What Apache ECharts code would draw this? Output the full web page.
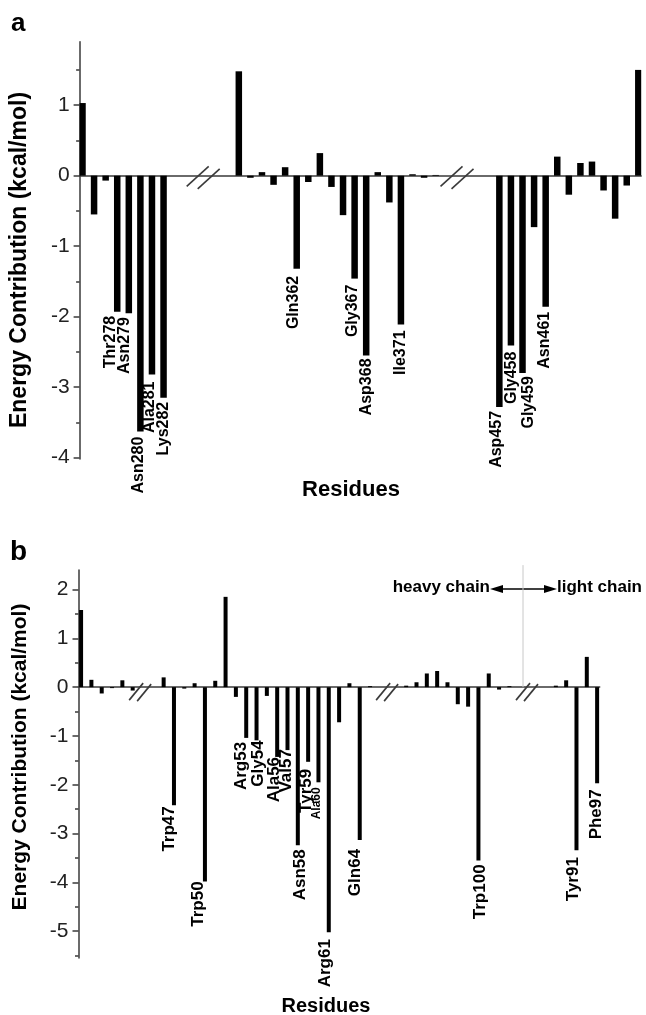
<!DOCTYPE html>
<html>
<head>
<meta charset="utf-8">
<script src="https://cdn.jsdelivr.net/npm/echarts@6/dist/echarts.min.js"></script>
<style>
  html, body { margin: 0; padding: 0; background: #fff; }
  #chart { width: 646px; height: 1015px; }
</style>
</head>
<body>
<div id="chart"></div>
<script>
// ================= DATA =================
// Panel a — three residue segments separated by axis breaks
const aSeg1Values = [1.03, -0.55, -0.07, -1.93, -1.95, -3.63, -2.82, -3.15];
const aSeg1Labels = ['', '', '', 'Thr278', 'Asn279', 'Asn280', 'Ala281', 'Lys282'];
const aSeg2Values = [1.48, -0.03, 0.05, -0.13, 0.12, -1.32, -0.09, 0.32, -0.16, -0.56, -1.46, -2.55, 0.05, -0.38, -2.11, 0.02, -0.03, 0.01];
const aSeg2Labels = ['', '', '', '', '', 'Gln362', '', '', '', '', 'Gly367', 'Asp368', '', '', 'Ile371', '', '', ''];
const aSeg3Values = [-3.28, -2.41, -2.80, -0.73, -1.86, 0.27, -0.27, 0.18, 0.20, -0.21, -0.61, -0.14, 1.50];
const aSeg3Labels = ['Asp457', 'Gly458', 'Gly459', '', 'Asn461', '', '', '', '', '', '', '', ''];
const aYTicks = [-4, -3, -2, -1, 0, 1];
const aYMinorTicks = [-3.5, -2.5, -1.5, -0.5, 0.5, 1.5];
const aBreakGaps = [13, 11];          // width of each axis break, in half bar-slots

// Panel b — heavy chain (3 segments) and light chain (1 segment)
const bSeg1Values = [1.58, 0.15, -0.13, -0.02, 0.14, -0.07];
const bSeg1Labels = ['', '', '', '', '', ''];
const bSeg2Values = [0.20, -2.42, -0.03, 0.08, -3.98, 0.13, 1.85, -0.20, -1.04, -1.09, -0.18, -1.43, -1.29, -3.24, -1.53, -1.95, -5.02, -0.72, 0.08, -3.13, 0.02];
const bSeg2Labels = ['', 'Trp47', '', '', 'Trp50', '', '', '', 'Arg53', 'Gly54', '', 'Ala56', 'Val57', 'Asn58', 'Tyr59', 'Ala60', 'Arg61', '', '', 'Gln64', ''];
const bSeg3Values = [0.03, 0.10, 0.28, 0.33, 0.10, -0.35, -0.40, -3.55, 0.28, -0.05, 0.02];
const bSeg3Labels = ['', '', '', '', '', '', '', 'Trp100', '', '', ''];
const bSeg4Values = [0.03, 0.14, -3.34, 0.62, -1.97];
const bSeg4Labels = ['', '', 'Tyr91', '', 'Phe97'];
const bYTicks = [-5, -4, -3, -2, -1, 0, 1, 2];
const bYMinorTicks = [-5.5, -4.5, -3.5, -2.5, -1.5, -0.5, 0.5, 1.5];
const bBreakGaps = [6, 7, 9];

// ================= STYLE =================
const FONT = "'Liberation Sans', Arial, Helvetica, sans-serif";
const AXIS_COLOR = '#3a3a3a';

const styleA = {
  grid: { left: 79.6, top: 41.7, width: 561.6, height: 417.4 },
  min: -4.02, max: 1.9, barWidth: 6.5, labelSize: 16,
  brk: { dx: 22, dy: 20, sepX: 11, sepY: 2.5, y: 2, shifts: [2, -10.5] }
};
const styleB = {
  grid: { left: 78.5, top: 570, width: 521.2, height: 388 },
  min: -5.55, max: 2.4, barWidth: 4, labelSize: 17,
  brk: { dx: 14, dy: 17, sepX: 8, sepY: 1, y: 5, shifts: [-8, -1, -5.6] },
  divider: { at: 2, shift: -9.6, top: 2.5 }
};

// screen-space nudges [dx, dy] of residue labels, and special sizes
const labelNudge = {
  Thr278: [-7, 0], Asn279: [-4, 0], Asn280: [-1.5, 1], Ala281: [-2, 3], Lys282: [0, 0],
  Gln362: [-3, 3], Gly367: [-2.5, 2], Asp368: [0, -1], Ile371: [0, 2],
  Asp457: [-2.5, 0], Gly458: [1, 2], Gly459: [6, -1], Asn461: [-1.5, 1],
  Trp47: [-4.5, -3], Trp50: [-6.5, -4], Arg53: [-5, 0], Gly54: [2, -4], Ala56: [-3, -4], Val57: [-1.5, -5],
  Asn58: [2, 0], Tyr59: [-2, 3], Ala60: [-1.5, 1], Arg61: [-3.5, 3], Gln64: [-4, 5],
  Trp100: [2, 0], Tyr91: [-3, 3], Phe97: [-1, 2]
};
const labelSize = { Ala60: 12 };

// ================= BUILD =================
function buildPanel(segValues, segLabels, gaps) {
  const values = [], names = [], breaks = [];
  segValues.forEach((vals, s) => {
    vals.forEach((v, i) => {
      if (i > 0) { values.push(null); names.push(''); }
      values.push(v); names.push(segLabels[s][i]);
    });
    if (s < segValues.length - 1) {
      const last = values.length - 1;
      for (let k = 1; k < gaps[s]; k++) { values.push(null); names.push(''); }
      breaks.push([last, 0, values.length]);
    }
  });
  return { values, names, breaks, cats: values.map((_, i) => 'c' + i) };
}

const panelA = buildPanel([aSeg1Values, aSeg2Values, aSeg3Values], [aSeg1Labels, aSeg2Labels, aSeg3Labels], aBreakGaps);
const panelB = buildPanel([bSeg1Values, bSeg2Values, bSeg3Values, bSeg4Values], [bSeg1Labels, bSeg2Labels, bSeg3Labels, bSeg4Labels], bBreakGaps);

const grids = [], xAxes = [], yAxes = [], series = [];

function addPanel(panel, st, ticks, minorTicks, idx) {
  grids.push(Object.assign({ outerBoundsMode: 'none', containLabel: false }, st.grid));
  xAxes.push({
    type: 'category', gridIndex: idx, data: panel.cats, boundaryGap: true,
    axisLine: { show: true, onZero: true, lineStyle: { color: AXIS_COLOR, width: 1.5 } },
    axisTick: { show: false }, axisLabel: { show: false }, splitLine: { show: false }
  });
  const yMain = yAxes.length;
  yAxes.push({
    type: 'value', gridIndex: idx, position: 'left', min: st.min, max: st.max,
    axisLine: { show: true, lineStyle: { color: AXIS_COLOR, width: 1.5 } },
    axisTick: { show: true, length: 6, customValues: ticks, lineStyle: { color: AXIS_COLOR, width: 1.5 } },
    axisLabel: { show: true, customValues: ticks, fontSize: 21, fontFamily: FONT, color: '#222', margin: 10 },
    splitLine: { show: false }
  });
  yAxes.push({
    type: 'value', gridIndex: idx, position: 'left', offset: 0, min: st.min, max: st.max,
    axisLine: { show: false },
    axisTick: { show: true, length: 3.5, customValues: minorTicks, lineStyle: { color: AXIS_COLOR, width: 1.5 } },
    axisLabel: { show: false }, splitLine: { show: false }
  });
  const data = panel.values.map((v, i) => {
    if (v == null) return '-';
    const nm = panel.names[i];
    if (!nm) return v;
    const n = labelNudge[nm] || [0, 0];
    const lab = { offset: [-n[1], n[0]] };
    if (labelSize[nm]) lab.fontSize = labelSize[nm];
    return { value: v, label: lab };
  });
  series.push({
    type: 'bar', xAxisIndex: idx, yAxisIndex: yMain, data,
    barWidth: st.barWidth, itemStyle: { color: '#000' }, silent: true,
    label: {
      show: true, position: 'bottom', rotate: 90, align: 'right', verticalAlign: 'middle',
      distance: 4, fontFamily: FONT, fontWeight: 'bold', fontSize: st.labelSize, color: '#000',
      formatter: p => panel.names[p.dataIndex] || ''
    }
  });
  series.push({
    type: 'custom', xAxisIndex: idx, yAxisIndex: yMain, data: panel.breaks,
    encode: { x: 0, y: 1 }, clip: false, silent: true, z: 5,
    renderItem: (params, api) => {
      const k = params.dataIndex, b = st.brk;
      const p0 = api.coord([api.value(0), 0]);
      const p1 = api.coord([api.value(2), 0]);
      const mid = (p0[0] + p1[0]) / 2;
      const cx = mid + b.shifts[k], cy = p0[1] + b.y;
      const children = [];
      [-0.5, 0.5].forEach(j => {
        const lx = cx + j * b.sepX, ly = cy + j * b.sepY;
        children.push({
          type: 'line',
          shape: { x1: lx - b.dx / 2, y1: ly + b.dy / 2, x2: lx + b.dx / 2, y2: ly - b.dy / 2 },
          style: { stroke: AXIS_COLOR, lineWidth: 1.6 }
        });
      });
      if (st.divider && st.divider.at === k) {
        const top = api.coord([api.value(0), st.divider.top]);
        const x = mid + st.divider.shift;
        children.push({ type: 'line', shape: { x1: x, y1: top[1], x2: x, y2: p0[1] }, style: { stroke: '#c8c8c8', lineWidth: 1 } });
      }
      return { type: 'group', children };
    }
  });
}

addPanel(panelA, styleA, aYTicks, aYMinorTicks, 0);
addPanel(panelB, styleB, bYTicks, bYMinorTicks, 1);

function txt(text, x, y, size, align, rotation) {
  return {
    type: 'text', x, y, rotation: rotation || 0, silent: true,
    style: { text, fontSize: size, fontWeight: 'bold', fontFamily: FONT, fill: '#000', align, verticalAlign: 'middle' }
  };
}

const graphic = [
  txt('a', 11, 24, 26, 'left'),
  txt('b', 10, 552, 28, 'left'),
  txt('Energy Contribution (kcal/mol)', 20, 260, 23, 'center', Math.PI / 2),
  txt('Energy Contribution (kcal/mol)', 20, 757, 21, 'center', Math.PI / 2),
  txt('Residues', 351, 489.5, 22, 'center'),
  txt('Residues', 326, 1006, 20, 'center'),
  txt('heavy chain', 490, 587, 17, 'right'),
  txt('light chain', 557, 587, 17, 'left'),
  { type: 'line', silent: true, shape: { x1: 500, y1: 589, x2: 547, y2: 589 }, style: { stroke: '#000', lineWidth: 1.5 } },
  { type: 'polygon', silent: true, shape: { points: [[490, 589], [503, 585], [503, 593]] }, style: { fill: '#000' } },
  { type: 'polygon', silent: true, shape: { points: [[557, 589], [544, 585], [544, 593]] }, style: { fill: '#000' } }
];

const chart = echarts.init(document.getElementById('chart'), null, { renderer: 'canvas' });
chart.setOption({
  animation: false,
  backgroundColor: '#fff',
  grid: grids,
  xAxis: xAxes,
  yAxis: yAxes,
  series,
  graphic
});
</script>
</body>
</html>
